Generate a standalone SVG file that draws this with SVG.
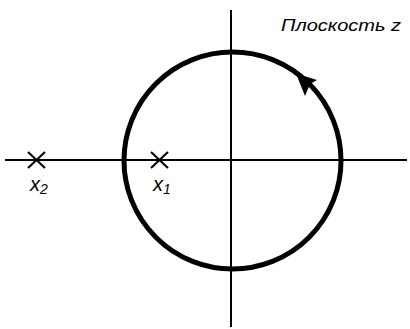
<svg xmlns="http://www.w3.org/2000/svg" width="410" height="329" viewBox="0 0 410 329">
<style>
.ax{stroke:#000;stroke-width:2;fill:none}
.cr{stroke:#000;stroke-width:2;fill:none}
.t{font-family:"Liberation Sans","DejaVu Sans",sans-serif;font-style:italic;fill:#000}
</style>
<rect width="410" height="329" fill="#fff"/>
<g id="connectors">
<line class="ax" x1="5" y1="160" x2="407" y2="160"/>
<line class="ax" x1="231" y1="10" x2="231" y2="327"/>
<circle cx="232.5" cy="160.5" r="108.5" stroke="#000" stroke-width="5" fill="none"/>
<path d="M296,73.5 L317,80 L310,84 L305,96 Z" fill="#000"/>
</g>
<g id="x2">
<line class="cr" x1="28" y1="152" x2="45" y2="168"/>
<line class="cr" x1="45" y1="152" x2="28" y2="168"/>
<text class="t" x="30" y="191" font-size="20">x<tspan font-size="14" dy="3">2</tspan></text>
</g>
<g id="x1">
<line class="cr" x1="151" y1="152" x2="168" y2="168"/>
<line class="cr" x1="168" y1="152" x2="151" y2="168"/>
<text class="t" x="153" y="191" font-size="20">x<tspan font-size="14" dy="3">1</tspan></text>
</g>
<g id="label">
<text class="t" x="281" y="31" font-size="16" textLength="120" lengthAdjust="spacingAndGlyphs">Плоскость  z</text>
</g>
</svg>
